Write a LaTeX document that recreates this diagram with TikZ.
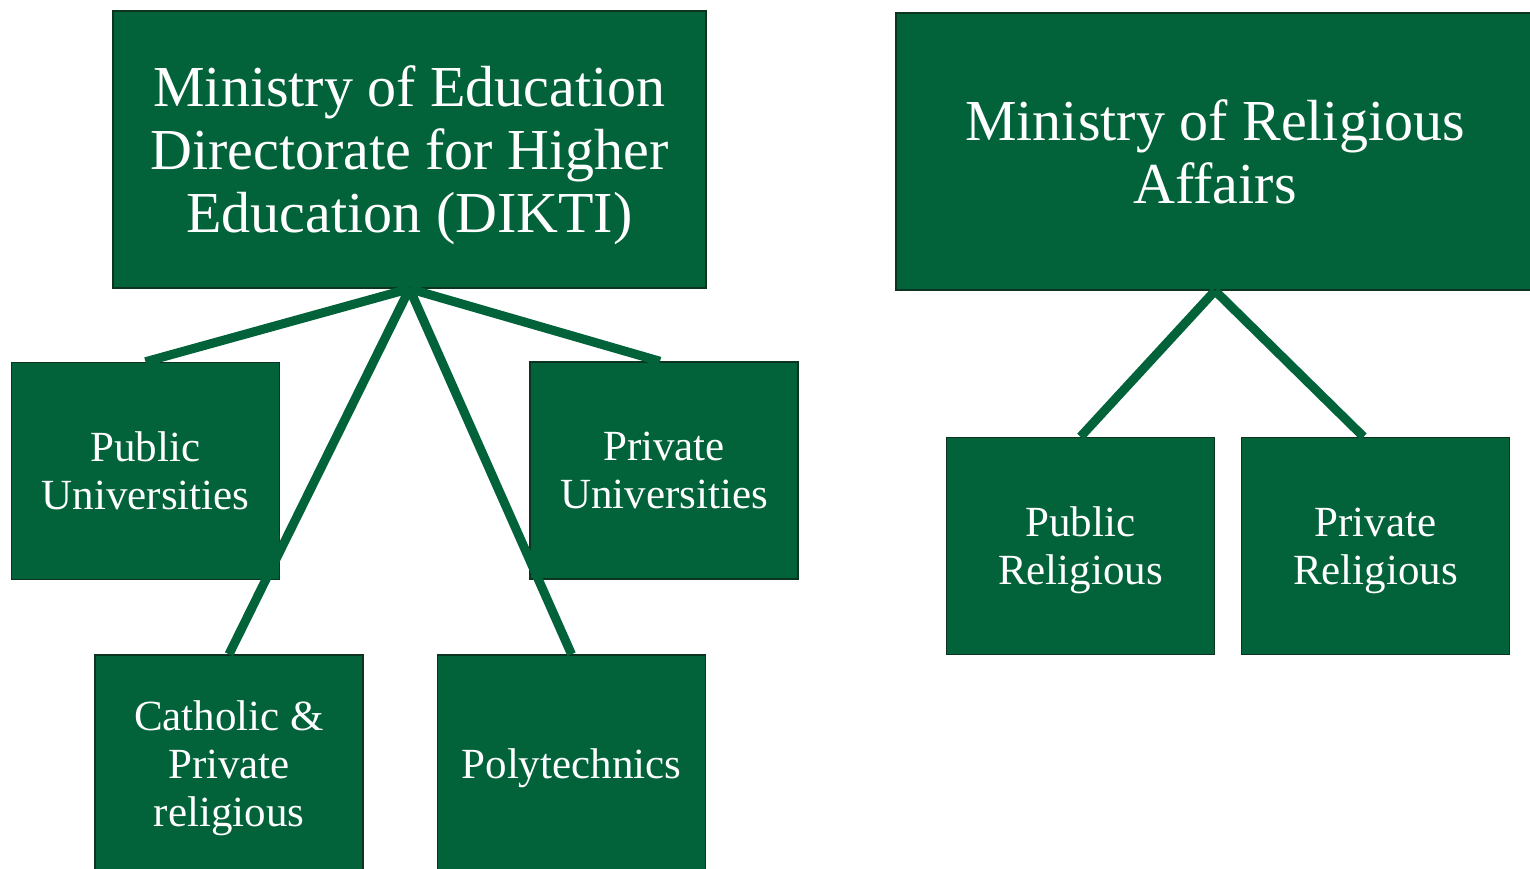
\documentclass[tikz,border=0pt]{standalone}
\usepackage{fontspec}
\setmainfont{Liberation Serif}
\definecolor{boxgreen}{RGB}{2,98,58}
\definecolor{boxedge}{RGB}{12,52,32}
\begin{document}
\begin{tikzpicture}[x = 1pt, y = -1pt,
   ministry/.style = {draw=boxedge, line width=1.5pt, fill=boxgreen, text=white, align=center, text depth=0pt,
                      inner sep=0pt, minimum height=277pt, font=\fontsize{58}{63}\selectfont},
   unit/.style = {draw=boxedge, line width=1.5pt, fill=boxgreen, text=white, align=center, text depth=0pt,
                  inner sep=0pt, minimum width=268pt, minimum height=217pt, font=\fontsize{43}{48}\selectfont},
   link/.style = {draw=boxgreen, line width=9pt}]
   \useasboundingbox (0, 0) rectangle (1530, 869);
   \node[ministry, minimum width=593pt] (dikti) at (409.5, 149.5) {Ministry of Education\\Directorate for Higher\\Education (DIKTI)};
   \node[ministry, minimum width=638pt] (religion) at (1215, 151.5) {Ministry of Religious\\Affairs};
   \node[unit] (pubuni)  at (145.5, 471)   {Public\\Universities};
   \node[unit] (privuni) at (664, 470.5)   {Private\\Universities};
   \node[unit] (cathrel) at (229, 763.5)   {Catholic \&\\Private\\religious};
   \node[unit] (poly)    at (571.5, 763.5) {Polytechnics};
   \node[unit] (pubrel)  at (1080.5, 546)  {Public\\Religious};
   \node[unit] (privrel) at (1375.5, 546)  {Private\\Religious};
   \draw[link] (dikti.south) -- (pubuni.north);
   \draw[link] (dikti.south) -- ([xshift=-4pt]privuni.north);
   \draw[link] (dikti.south) -- (cathrel.north);
   \draw[link] (dikti.south) -- (poly.north);
   \draw[link] (religion.south) -- (pubrel.north);
   \draw[link] (religion.south) -- ([xshift=-12pt]privrel.north);
\end{tikzpicture}
\end{document}
